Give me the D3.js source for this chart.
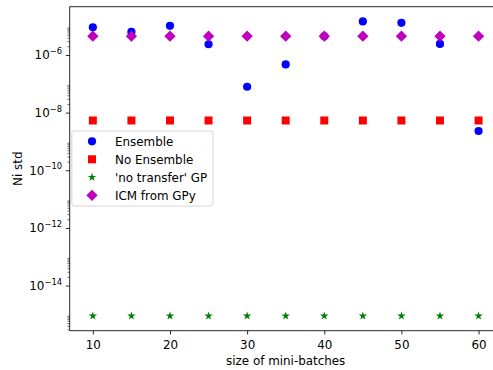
<!DOCTYPE html>
<html>
<head>
<meta charset="utf-8">
<script src="https://cdn.jsdelivr.net/npm/d3@7"></script>
<style>
  html, body { margin: 0; padding: 0; background: #fff; overflow: hidden; }
  svg { display: block; }
  text { font-family: "DejaVu Sans", sans-serif; }
</style>
</head>
<body>
<svg id="chart" width="493" height="370"></svg>
<script>
// Mini-batch sizes on the x axis
const batchSizes = [10, 15, 20, 25, 30, 35, 40, 45, 50, 55, 60];

// Std of Ni for each method
const ensemble   = [9.1e-6, 6.3e-6, 1.03e-5, 2.36e-6, 7.9e-8, 4.7e-7, 4.45e-6, 1.46e-5, 1.31e-5, 2.42e-6, 2.3e-9];
const noEnsemble = [5.3e-9, 5.3e-9, 5.3e-9, 5.3e-9, 5.3e-9, 5.3e-9, 5.3e-9, 5.3e-9, 5.3e-9, 5.3e-9, 5.3e-9];
const noTransfer = [8.8e-16, 8.8e-16, 8.8e-16, 8.8e-16, 8.8e-16, 8.8e-16, 8.8e-16, 8.8e-16, 8.8e-16, 8.8e-16, 8.8e-16];
const icmGPy     = [4.5e-6, 4.5e-6, 4.5e-6, 4.5e-6, 4.5e-6, 4.5e-6, 4.5e-6, 4.5e-6, 4.5e-6, 4.5e-6, 4.5e-6];

const seriesNames = ["Ensemble", "No Ensemble", "'no transfer' GP", "ICM from GPy"];

// Axis ticks
const xTicks = [10, 20, 30, 40, 50, 60];
const yMajorExponents = [-14, -12, -10, -8, -6];
const yMinorExponents = [-16, -14, -12, -10, -8, -6];
const yMinorSubs = [2, 3, 4, 5, 6, 7, 8, 9];

const svg = d3.select("#chart");
const W = 493;
const L = 69.7, R = 501.7, T = 6.7, B = 330.7;   // right edge of the axes lies past the figure edge
const FS = 11.9;
const FONT = "DejaVu Sans";

const x = d3.scaleLinear().domain([7, 63]).range([L, R]);

// log y domain padded by 5% of the data span in log space
const allY = ensemble.concat(noEnsemble, noTransfer, icmGPy);
const lo = Math.log10(d3.min(allY)), hi = Math.log10(d3.max(allY));
const pad = (hi - lo) * 0.05;
const y = d3.scaleLog().domain([10 ** (lo - pad), 10 ** (hi + pad)]).range([B, T]);

// clip for the marks
svg.append("defs").append("clipPath").attr("id", "plot-clip")
  .append("rect").attr("x", L).attr("y", T).attr("width", W - L).attr("height", B - T);

const sym = {
  circle: d3.symbol().type(d3.symbolCircle).size(Math.PI * 4.1 * 4.1),
  square: d3.symbol().type(d3.symbolSquare).size(64),
  star: d3.symbol().type(d3.symbolStar).size(22),
  diamond: d3.symbol().type(d3.symbolSquare).size(64)
};

const series = [
  { name: seriesNames[0], values: ensemble,   shape: "circle",  color: "#0000ff", rot: 0 },
  { name: seriesNames[1], values: noEnsemble, shape: "square",  color: "#ff0000", rot: 0 },
  { name: seriesNames[2], values: noTransfer, shape: "star",    color: "#008000", rot: 0 },
  { name: seriesNames[3], values: icmGPy,     shape: "diamond", color: "#bf00bf", rot: 45 }
];

const marks = svg.append("g").attr("clip-path", "url(#plot-clip)");
series.forEach(s => {
  marks.append("g").selectAll("path")
    .data(s.values.map((v, i) => [batchSizes[i], v]))
    .join("path")
    .attr("d", sym[s.shape]())
    .attr("transform", d => `translate(${x(d[0])},${y(d[1])}) rotate(${s.rot})`)
    .attr("fill", s.color);
});

// x axis ticks and labels
const xAxis = svg.append("g").attr("transform", `translate(0,${B})`)
  .call(d3.axisBottom(x).tickValues(xTicks).tickSize(3.8).tickSizeOuter(0).tickFormat(d3.format("d")));
xAxis.select(".domain").remove();
xAxis.selectAll("line").attr("stroke", "#000").attr("stroke-width", 0.85);
xAxis.selectAll("text").attr("font-size", FS).attr("fill", "#000")
  .attr("font-family", FONT).attr("dy", null).attr("y", 18.6);

// y axis: minor ticks
const minorVals = [];
yMinorExponents.forEach(e => yMinorSubs.forEach(s => {
  const v = s * 10 ** e;
  if (v >= y.domain()[0] && v <= y.domain()[1]) minorVals.push(v);
}));
const yMinor = svg.append("g").attr("transform", `translate(${L},0)`)
  .call(d3.axisLeft(y).tickValues(minorVals).tickSize(2.2).tickSizeOuter(0).tickFormat(""));
yMinor.select(".domain").remove();
yMinor.selectAll("line").attr("stroke", "#000").attr("stroke-width", 0.6);

// y axis: major ticks with 10^n labels
const yMajor = svg.append("g").attr("transform", `translate(${L},0)`)
  .call(d3.axisLeft(y).tickValues(yMajorExponents.map(e => 10 ** e)).tickSize(3.8).tickSizeOuter(0).tickFormat(""));
yMajor.select(".domain").remove();
yMajor.selectAll("line").attr("stroke", "#000").attr("stroke-width", 0.85);
yMajor.selectAll(".tick").each(function (d) {
  const e = Math.round(Math.log10(d));
  const t = d3.select(this).append("text")
    .attr("x", -7.6).attr("y", 3.9)
    .attr("text-anchor", "end").attr("fill", "#000")
    .attr("font-family", FONT).attr("font-size", FS);
  t.append("tspan").text("10");
  t.append("tspan").attr("font-size", 8.4).attr("dy", -5.2).text("\u2212" + Math.abs(e));
});

// keep the strip past the last marker clear
svg.append("rect").attr("x", 486).attr("y", T + 0.6).attr("width", W - 486).attr("height", B - T - 1.2)
  .attr("fill", "#fff");

// spines: top, bottom, left
const spine = svg.append("g").attr("stroke", "#000").attr("stroke-width", 0.85);
spine.append("line").attr("x1", L).attr("x2", W).attr("y1", T).attr("y2", T);
spine.append("line").attr("x1", L).attr("x2", W).attr("y1", B).attr("y2", B);
spine.append("line").attr("x1", L).attr("x2", L).attr("y1", T).attr("y2", B);

// axis labels
svg.append("text").attr("x", (L + R) / 2).attr("y", 365)
  .attr("text-anchor", "middle").attr("font-family", FONT).attr("font-size", FS).attr("fill", "#000")
  .text("size of mini-batches");
svg.append("text").attr("transform", `translate(21.8,${(T + B) / 2}) rotate(-90)`)
  .attr("text-anchor", "middle").attr("font-family", FONT).attr("font-size", FS).attr("fill", "#000")
  .text("Ni std");

// legend
const lg = svg.append("g");
lg.append("rect").attr("x", 71.8).attr("y", 131).attr("width", 141.2).attr("height", 75)
  .attr("rx", 2.5).attr("fill", "#fff").attr("fill-opacity", 0.8)
  .attr("stroke", "#cccccc").attr("stroke-width", 0.8);
series.forEach((s, i) => {
  const yy = 141.3 + i * 18;
  lg.append("path").attr("d", sym[s.shape]())
    .attr("transform", `translate(92,${yy}) rotate(${s.rot})`).attr("fill", s.color);
  lg.append("text").attr("x", 115).attr("y", yy + 4.3)
    .attr("font-family", FONT).attr("font-size", FS).attr("fill", "#000").text(s.name);
});
</script>
</body>
</html>
